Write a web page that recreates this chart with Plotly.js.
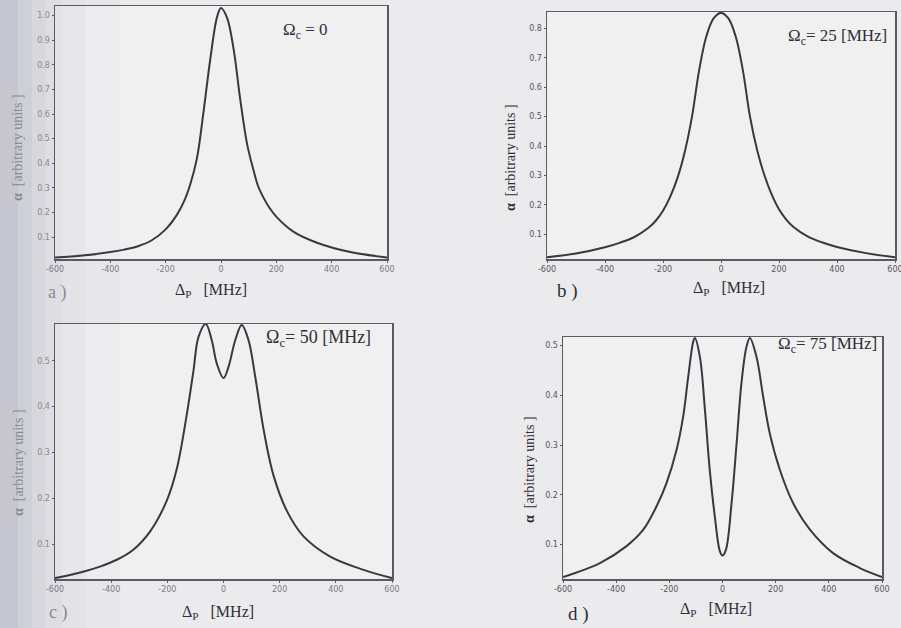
<!DOCTYPE html>
<html>
<head>
<meta charset="utf-8">
<script src="https://cdn.plot.ly/plotly-3.0.1.min.js"></script>
<style>html,body{margin:0;padding:0;background:#ebebed;}#chart{width:901px;height:628px;}</style>
</head>
<body>
<div id="chart"></div>
<script>
// Panel a) Omega_c = 0
const detA = [-600,-500,-400,-350,-300,-250,-200,-160,-130,-111,-87,-63,-39,-14,0,22,46,70,94,118,135,154,175,203,263,347,468,600];
const alphaA = [0.018,0.026,0.04,0.05,0.064,0.088,0.132,0.19,0.255,0.315,0.42,0.61,0.82,0.995,1.03,0.99,0.86,0.655,0.48,0.37,0.305,0.26,0.22,0.18,0.122,0.078,0.04,0.018];

// Panel b) Omega_c = 25 MHz
const detB = [-600,-500,-400,-350,-300,-250,-225,-200,-175,-150,-125,-100,-75,-50,-25,0,25,50,75,100,125,150,175,200,225,250,300,350,400,500,600];
const alphaB = [0.022,0.035,0.056,0.071,0.09,0.122,0.146,0.18,0.228,0.292,0.38,0.5,0.66,0.775,0.835,0.853,0.835,0.775,0.66,0.5,0.385,0.3,0.235,0.185,0.15,0.125,0.092,0.072,0.057,0.036,0.022];

// Panel c) Omega_c = 50 MHz
const detC = [-600,-500,-440,-380,-321,-261,-202,-166,-131,-107,-89,-63,-42,-24,0,18,42,65,89,113,143,178,226,285,380,499,600];
const alphaC = [0.026,0.04,0.051,0.066,0.088,0.128,0.195,0.265,0.382,0.478,0.552,0.58,0.545,0.494,0.462,0.487,0.545,0.578,0.545,0.465,0.349,0.25,0.172,0.117,0.073,0.044,0.026];

// Panel d) Omega_c = 75 MHz
const detD = [-600,-461,-361,-298,-248,-211,-173,-148,-129,-110,-104,-85,-66,-48,-29,-10,0,13,34,53,71,90,103,128,153,178,216,266,329,416,517,600];
const alphaD = [0.035,0.063,0.097,0.13,0.177,0.223,0.29,0.357,0.437,0.508,0.515,0.477,0.37,0.25,0.157,0.087,0.078,0.09,0.183,0.303,0.423,0.497,0.515,0.477,0.397,0.323,0.25,0.183,0.13,0.083,0.053,0.035];

const xTicks = [-600,-400,-200,0,200,400,600];
const yTicksA = [0.1,0.2,0.3,0.4,0.5,0.6,0.7,0.8,0.9,1.0];
const yTicksB = [0.1,0.2,0.3,0.4,0.5,0.6,0.7,0.8];
const yTicksC = [0.1,0.2,0.3,0.4,0.5];
const yTicksD = [0.1,0.2,0.3,0.4,0.5];

const panelLabels = ['a )','b )','c )','d )'];
const omegaLabels = ['Ω<sub>c</sub> = 0','Ω<sub>c</sub>= 25 [MHz]','Ω<sub>c</sub>= 50 [MHz]','Ω<sub>c</sub>= 75 [MHz]'];
const xTitle = 'Δ<sub>P</sub>   [MHz]';
const yTitle = '<b>α</b>  [arbitrary units ]';

const W = 901, H = 628;
const lineStyle = {color:'#383842', width:2, shape:'spline', smoothing:1};

function tr(x,y,n){
  return {x:x, y:y, type:'scatter', mode:'lines', line:lineStyle,
          xaxis:'x'+(n>1?n:''), yaxis:'y'+(n>1?n:''), hoverinfo:'skip', showlegend:false};
}
const data = [tr(detA,alphaA,1), tr(detB,alphaB,2), tr(detC,alphaC,3), tr(detD,alphaD,4)];

function px(x){return x/W;}
function py(y){return 1-y/H;}

const tickFont = {family:'DejaVu Sans, sans-serif', size:8, color:'#55555c'};
function xa(l,r,anchor,tickColor){
  return {domain:[px(l),px(r)], range:[-600,600], tickvals:xTicks, ticktext:xTicks.map(String),
    anchor:anchor, showgrid:false, zeroline:false, showline:true, mirror:true,
    linecolor:'#5a5a64', linewidth:1.5, ticks:'outside', ticklen:2, tickcolor:'#5a5a64',
    ticklabeloverflow:'allow',
    tickfont:Object.assign({},tickFont,{color:tickColor}), fixedrange:true};
}
function ya(t,b,range,vals,anchor,tickColor){
  return {domain:[py(b),py(t)], range:range, tickvals:vals, ticktext:vals.map(v=>v.toFixed(1)),
    anchor:anchor, showgrid:false, zeroline:false, showline:true, mirror:true,
    linecolor:'#5a5a64', linewidth:1.5, ticks:'outside', ticklen:2, tickcolor:'#5a5a64',
    tickfont:Object.assign({},tickFont,{color:tickColor}), fixedrange:true};
}

const serif = 'Liberation Serif, DejaVu Serif, serif';
function ann(text,x,y,size,opts){
  return Object.assign({text:text, x:px(x), y:py(y), xref:'paper', yref:'paper', showarrow:false,
    font:{family:serif, size:size, color:'#2e2e36'}, xanchor:'center', yanchor:'middle'}, opts||{});
}

// faint scan shadow on the left edge
const shapes = [];
const shadeSteps = [[0,18,0.22],[18,32,0.17],[32,46,0.12],[46,62,0.08],[62,85,0.05],[85,120,0.025]];
shadeSteps.forEach(s=>{
  shapes.push({type:'rect', xref:'paper', yref:'paper', x0:px(s[0]), x1:px(s[1]), y0:0, y1:1,
    fillcolor:'rgba(70,70,110,'+s[2]+')', line:{width:0}, layer:'below'});
});

const layout = {
  width:W, height:H, margin:{l:0,r:0,t:0,b:0},
  paper_bgcolor:'#ebebed', plot_bgcolor:'#f0f0f1',
  showlegend:false,
  xaxis: xa(55,387,'y','#7a7a82'),
  yaxis: ya(6,259,[0.012,1.038],yTicksA,'x','#8a8a92'),
  xaxis2: xa(547,895,'y2','#55555c'),
  yaxis2: ya(12,259,[0.016,0.856],yTicksB,'x2','#55555c'),
  xaxis3: xa(55,392,'y3','#7a7a82'),
  yaxis3: ya(324,579,[0.024,0.58],yTicksC,'x3','#8a8a92'),
  xaxis4: xa(563,882,'y4','#55555c'),
  yaxis4: ya(337,579,[0.031,0.517],yTicksD,'x4','#55555c'),
  shapes: shapes,
  annotations: [
    ann(omegaLabels[0],305,31,17),
    ann(omegaLabels[1],837,37,17),
    ann(omegaLabels[2],318,338,18),
    ann(omegaLabels[3],827,345,17),
    ann(xTitle,211,290,16),
    ann(xTitle,729,288,16),
    ann(xTitle,218,612,16),
    ann(xTitle,716,609,16),
    ann(yTitle,18,148,14,{textangle:-90, font:{family:serif,size:14,color:'#8a8a95'}}),
    ann(yTitle,510,158,14,{textangle:-90}),
    ann(yTitle,18,463,14,{textangle:-90, font:{family:serif,size:14,color:'#8a8a95'}}),
    ann(yTitle,530,470,14,{textangle:-90}),
    ann(panelLabels[0],57,292,18,{font:{family:serif,size:18,color:'#8a8a92'}}),
    ann(panelLabels[1],567,291,19),
    ann(panelLabels[2],58,612,18,{font:{family:serif,size:18,color:'#8a8a92'}}),
    ann(panelLabels[3],578,614,19)
  ]
};

Plotly.newPlot('chart', data, layout, {displayModeBar:false, staticPlot:true});
</script>
</body>
</html>
